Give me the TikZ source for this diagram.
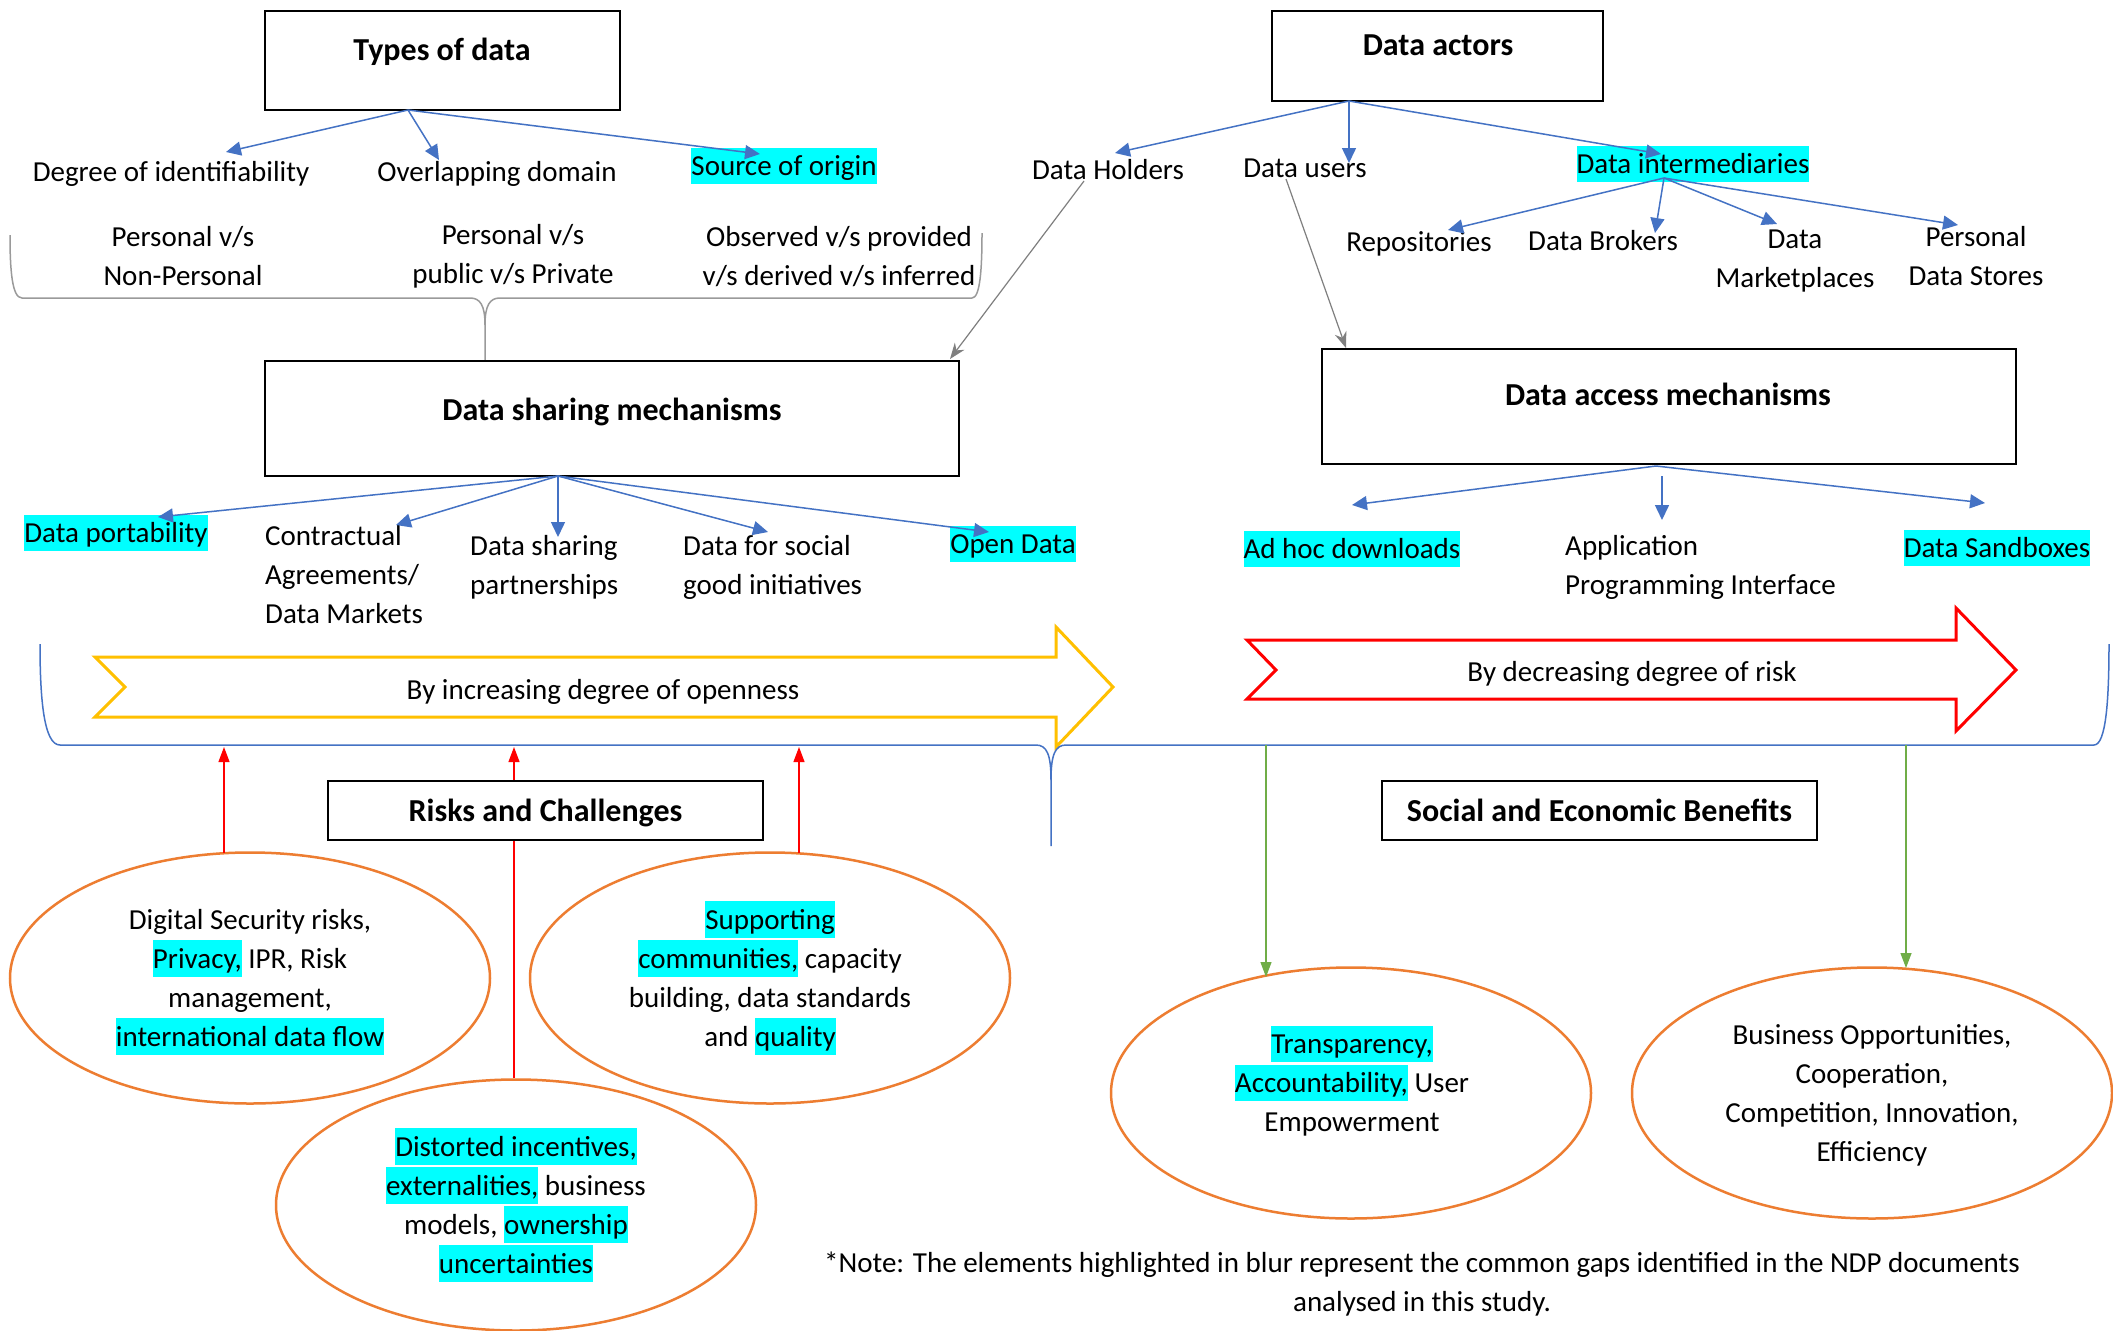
\documentclass[tikz,border=0pt]{standalone}
\usepackage{fontspec}
\setmainfont{Carlito}
\usetikzlibrary{arrows.meta,shapes.geometric}
\definecolor{hlc}{HTML}{00FFFF}
\definecolor{ablue}{HTML}{4472C4}
\definecolor{agray}{HTML}{7F7F7F}
\definecolor{bgray}{HTML}{9A9A9A}
\definecolor{aorange}{HTML}{ED7D31}
\definecolor{ayellow}{HTML}{FFC000}
\definecolor{agreen}{HTML}{70AD47}
\newcommand{\st}{\rule[-8.7pt]{0pt}{36.8pt}}
\newcommand{\hst}{\rule[-9.6pt]{0pt}{40.6pt}}
\newcommand{\hl}[1]{{\setlength{\fboxsep}{0pt}\colorbox{hlc}{\st#1}}}
\tikzset{
 base/.style={font=\fontsize{29pt}{39pt}\selectfont, inner sep=0pt},
 lbl/.style={base, align=center},
 lbll/.style={base, align=left},
 head/.style={font=\fontsize{32pt}{39pt}\selectfont\bfseries, inner sep=0pt},
 bigbox/.style={draw=black, line width=2.5pt, fill=white, inner sep=0pt},
 barrow/.style={draw=ablue, line width=1.5pt, -{Triangle[length=15pt,width=14pt]}},
 garrow/.style={draw=agray, line width=1.2pt, -{Stealth[length=16pt,width=12pt]}},
 rarrow/.style={draw=red, line width=1.2pt, -{Triangle[length=15pt,width=11pt]}},
 grarrow/.style={draw=agreen, line width=1.2pt, -{Triangle[length=15pt,width=11pt]}},
 ell/.style={ellipse, draw=aorange, line width=2.5pt, fill=white, minimum width=480pt, minimum height=251pt, inner sep=0pt, base, align=center},
 bigarrow/.style={line width=3pt, line join=miter, fill=white},
}
\begin{document}
\begin{tikzpicture}[x=1pt,y=-1pt]
\useasboundingbox (0,0) rectangle (2113,1331);
\fill[white] (0,0) rectangle (2113,1331);

% ---------- top left: types of data ----------
\node[bigbox, minimum width=355pt, minimum height=99pt] (types) at (442.5,60.5) {};
\node[head] (typest) at (442,50) {\hst Types of data};
\node[lbl] (deg) at (171,172) {\st Degree of identifiability};
\node[lbl] (ovl) at (497,172) {\st Overlapping domain};
\node[lbl] (src) at (784,166) {\hl{Source of origin}};
\node[lbl] (pers1) at (183,256) {\st Personal v/s\\\st Non-Personal};
\node[lbl] (pers2) at (513,254) {\st Personal v/s\\\st public v/s Private};
\node[lbl] (obs) at (839,256) {\st Observed v/s provided\\\st v/s derived v/s inferred};

\coordinate (tO) at (408,110);
\coordinate (tDeg) at (226,152);
\coordinate (tOvl) at (439,160);
\coordinate (tSrc) at (760,154);
\draw[barrow] (tO) -- (tDeg);
\draw[barrow] (tO) -- (tOvl);
\draw[barrow] (tO) -- (tSrc);

% gray brace
\draw[bgray, line width=1.5pt] (10,235) .. controls (10,270) and (12,298) .. (22,298) -- (470,298)
  .. controls (480,298) and (485,305) .. (485,325) -- (485,360);
\draw[bgray, line width=1.5pt] (485,325) .. controls (485,305) and (490,298) .. (500,298) -- (972,298)
  .. controls (980,298) and (982,270) .. (982,233);

% ---------- top right: data actors ----------
\node[bigbox, minimum width=331pt, minimum height=90pt] (actors) at (1437.5,56) {};
\node[head] (actorst) at (1438,45) {\hst Data actors};
\node[lbl] (holders) at (1108,170) {\st Data Holders};
\node[lbl] (users) at (1305,168) {\st Data users};
\node[lbl] (inter) at (1693,164) {\hl{Data intermediaries}};
\node[lbl] (repo) at (1419,242) {\st Repositories};
\node[lbl] (brokers) at (1603,241) {\st Data Brokers};
\node[lbl] (market) at (1795,258) {\st Data\\\st Marketplaces};
\node[lbl] (pds) at (1976,256) {\st Personal\\\st Data Stores};

\coordinate (aO) at (1349,101);
\coordinate (aHol) at (1115,153);
\coordinate (aUse) at (1349,163);
\coordinate (aInt) at (1661,154);
\draw[barrow] (aO) -- (aHol);
\draw[barrow] (aO) -- (aUse);
\draw[barrow] (aO) -- (aInt);

\coordinate (iO) at (1664,178);
\coordinate (iRep) at (1448,230);
\coordinate (iBro) at (1655,233);
\coordinate (iMar) at (1777,224);
\coordinate (iPds) at (1958,225);
\draw[barrow] (iO) -- (iRep);
\draw[barrow] (iO) -- (iBro);
\draw[barrow] (iO) -- (iMar);
\draw[barrow] (iO) -- (iPds);

% ---------- mechanisms ----------
\node[bigbox, minimum width=694pt, minimum height=115pt] (share) at (612,418.5) {};
\node[head] (sharet) at (612,410) {\hst Data sharing mechanisms};
\node[bigbox, minimum width=694pt, minimum height=115pt] (access) at (1669,406.5) {};
\node[head] (accesst) at (1668,395) {\hst Data access mechanisms};

\coordinate (hS) at (1084,181);
\coordinate (hE) at (950,359);
\coordinate (uS) at (1286,179);
\coordinate (uE) at (1346,348);
\draw[garrow] (hS) -- (hE);
\draw[garrow] (uS) -- (uE);

\node[lbl] (port) at (116,533) {\hl{Data portability}};
\node[lbll, anchor=west] (contr) at (265,575) {\st Contractual\\\st Agreements/\\\st Data Markets};
\node[lbll, anchor=west] (dsp) at (470,565) {\st Data sharing\\\st partnerships};
\node[lbll, anchor=west] (dsg) at (683,565) {\st Data for social\\\st good initiatives};
\node[lbl] (open) at (1013,544) {\hl{Open Data}};

\coordinate (sO) at (558,476);
\coordinate (sPort) at (158,517);
\coordinate (sCon) at (396,525);
\coordinate (sDsp) at (558,537);
\coordinate (sDsg) at (768,532);
\coordinate (sOpen) at (989,532);
\draw[barrow] (sO) -- (sPort);
\draw[barrow] (sO) -- (sCon);
\draw[barrow] (sO) -- (sDsp);
\draw[barrow] (sO) -- (sDsg);
\draw[barrow] (sO) -- (sOpen);

\node[lbl] (adhoc) at (1352,549) {\hl{Ad hoc downloads}};
\node[lbll, anchor=west] (api) at (1565,565) {\st Application\\\st Programming Interface};
\node[lbl] (sandbox) at (1997,548) {\hl{Data Sandboxes}};

\coordinate (acO) at (1656,466);
\coordinate (acAd) at (1352,505);
\coordinate (acM1) at (1662,476);
\coordinate (acM2) at (1662,520);
\coordinate (acSb) at (1985,503);
\draw[barrow] (acO) -- (acAd);
\draw[barrow] (acM1) -- (acM2);
\draw[barrow] (acO) -- (acSb);

% ---------- big arrows ----------
\draw[bigarrow, draw=ayellow] (95,657) -- (1056,657) -- (1056,627) -- (1113,687) -- (1056,747) -- (1056,717) -- (95,717) -- (125,687) -- cycle;
\node[lbl] (open1) at (603,690) {\st By increasing degree of openness};
\draw[bigarrow, draw=red] (1247,640) -- (1956,640) -- (1956,608) -- (2016,670) -- (1956,731) -- (1956,699) -- (1247,699) -- (1276,670) -- cycle;
\node[lbl] (risk1) at (1632,672) {\st By decreasing degree of risk};

% blue brace
\draw[ablue, line width=1.5pt] (40,644) .. controls (40,700) and (44,745) .. (60,745) -- (1036,745)
  .. controls (1047,745) and (1051,755) .. (1051,780) -- (1051,846);
\draw[ablue, line width=1.5pt] (1051,780) .. controls (1051,755) and (1055,745) .. (1066,745) -- (2094,745)
  .. controls (2106,745) and (2109,700) .. (2109,644);

% ---------- bottom ----------
\node[ell] (e1) at (250,978) {\st Digital Security risks,\\\hl{Privacy,} IPR, Risk\\\st management,\\\hl{international data flow}};
\node[ell] (e2) at (770,978) {\hl{Supporting}\\\hl{communities,} capacity\\\st building, data standards\\\st and \hl{quality}};
\node[ell] (e3) at (516,1205) {\hl{Distorted incentives,}\\\hl{externalities,} business\\\st models, \hl{ownership}\\\hl{uncertainties}};
\node[ell] (e4) at (1351,1093) {};
\node[lbl] (e4t) at (1352,1083) {\hl{Transparency,}\\\hl{Accountability,} User\\\st Empowerment};
\node[ell] (e5) at (1872,1093) {\st Business Opportunities,\\\st Cooperation,\\\st Competition, Innovation,\\\st Efficiency};

\coordinate (r1s) at (224,853);
\coordinate (r1e) at (224,747);
\coordinate (r2e) at (514,747);
\coordinate (r3s) at (799,853);
\coordinate (r3e) at (799,747);
\draw[rarrow] (r1s) -- (r1e);
\draw[rarrow] (e3.north -| r2e) -- (r2e);
\draw[rarrow] (r3s) -- (r3e);

\coordinate (g1s) at (1266,745);
\coordinate (g1e) at (1266,977);
\coordinate (g2s) at (1906,745);
\coordinate (g2e) at (1906,968);
\draw[grarrow] (g1s) -- (g1e);
\draw[grarrow] (g2s) -- (g2e);

\node[bigbox, minimum width=435pt, minimum height=59pt, head] (risks) at (545.5,810.5) {\hst Risks and Challenges};
\node[bigbox, minimum width=435pt, minimum height=59pt, head] (benef) at (1599.5,810.5) {\hst Social and Economic Benefits};

\node[lbl] (note) at (1422,1282) {\st *Note: The elements highlighted in blur represent the common gaps identified in the NDP documents\\\st analysed in this study.};
\end{tikzpicture}
\end{document}
